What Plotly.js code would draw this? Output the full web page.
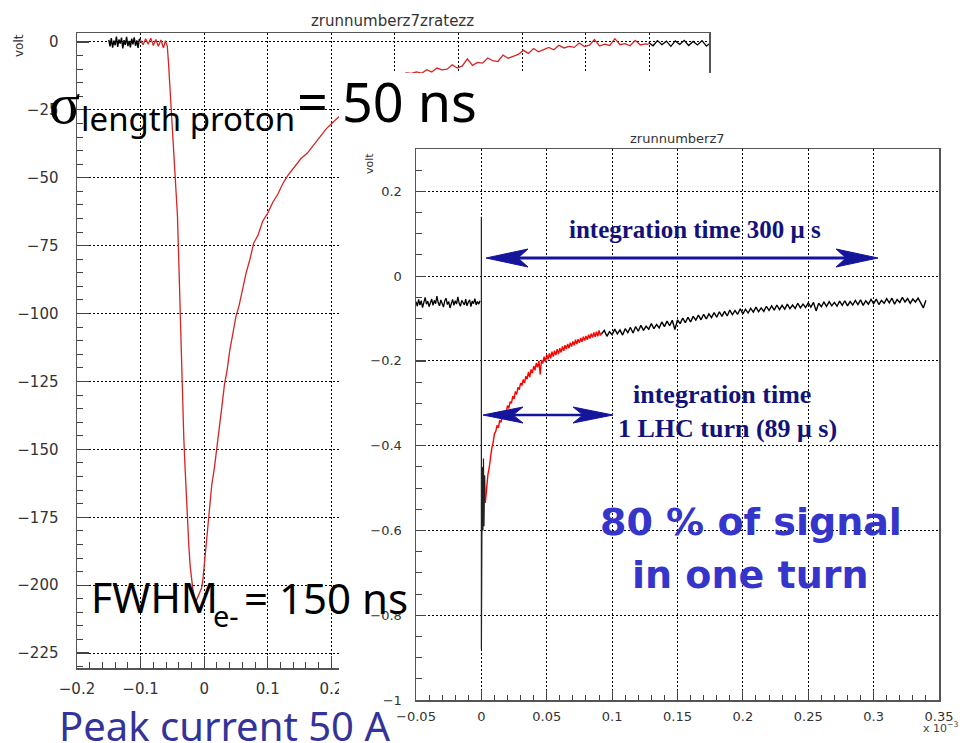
<!DOCTYPE html>
<html><head><meta charset="utf-8">
<script src="https://cdn.plot.ly/plotly-3.0.1.min.js"></script>
<style>body{margin:0;background:#fff}#lp,#rp{position:absolute;left:0;top:0;width:965px;height:743px}</style>
</head><body><div id="lp"></div><div id="rp"></div>
<script>
// ---------- LEFT PLOT DATA (x in µs, y in volt) ----------
const leftPreX = [-0.150,-0.148,-0.146,-0.144,-0.142,-0.140,-0.138,-0.136,-0.134,-0.132,-0.130,-0.128,-0.126,-0.124,-0.122,-0.120,-0.118,-0.116,-0.114,-0.112,-0.110,-0.108,-0.106,-0.104,-0.102,-0.100];
const leftPreY = [0.8,-1.6,1.4,-2.1,0.5,-1.2,2.0,-1.8,0.9,-0.6,1.6,-2.4,0.7,-1.1,1.9,-1.5,0.4,-2.0,1.2,-0.9,1.7,-1.4,0.6,-2.2,1.1,0.6];
const leftPulseX = [-0.100,-0.096,-0.092,-0.088,-0.084,-0.080,-0.076,-0.072,-0.068,-0.064,-0.061,-0.058,-0.056,-0.054,-0.052,-0.050,-0.048,-0.046,-0.044,-0.042,-0.040,-0.038,-0.036,-0.034,-0.032,-0.030,-0.028,-0.026,-0.024,-0.022,-0.020,-0.018,-0.016,-0.014,-0.012,-0.010,-0.008,-0.006,-0.004,-0.002,0.000,0.003,0.006,0.009,0.012,0.016,0.020,0.024,0.028,0.032,0.036,0.040,0.045,0.050,0.055,0.060,0.066,0.072,0.078,0.085,0.092,0.100,0.108,0.116,0.124,0.132,0.142,0.152,0.162,0.172,0.182,0.192,0.205,0.220,0.240,0.260,0.280,0.300,
  0.318,0.326,0.334,0.342,0.350,0.358,0.366,0.374,0.382,0.390,0.398,0.406,0.414,0.422,0.430,0.438,0.446,0.454,0.462,0.470,0.478,0.486,0.494,0.502,0.510,0.518,0.526,0.534,0.542,0.550,0.558,0.566,0.574,0.582,0.590,0.598,0.606,0.614,0.622,0.630,0.638,0.646,0.654,0.662,0.670,0.678,0.686,0.694,0.699];
const leftPulseY = [0.6,-1.0,1.2,-0.8,1.4,-1.3,0.9,-1.6,0.7,-2.2,0.5,-1.5,-8,-16,-23,-30,-38,-45,-53,-64,-80,-98,-112,-130,-146,-157,-168,-178,-186,-193,-198,-201,-204,-206,-205.5,-204.5,-203.5,-202.5,-201,-198,-193,-186,-177,-170,-163,-157,-150,-142,-134,-126,-121,-114,-108,-101,-97,-91,-85,-80,-74,-71,-66,-63,-59,-56,-52,-49,-46,-43,-41,-38,-35,-32,-29,-26,-22,-18,-15,-13,
  -11.4,-11.6,-11.0,-11.5,-10.2,-11.1,-9.6,-10.3,-10.0,-8.4,-9.6,-8.8,-6.2,-8.6,-7.5,-7.8,-5.9,-6.9,-7.2,-4.8,-6.0,-5.3,-4.6,-3.1,-4.2,-2.4,-3.6,-2.8,-2.0,-2.9,-1.2,-2.2,-1.6,-2.0,-0.4,-1.7,-1.2,0.9,-1.5,-0.8,-1.3,1.2,-1.0,-0.6,-1.4,0.6,-1.1,-0.7,-0.9];
const leftTailX = [0.699,0.706,0.713,0.720,0.727,0.734,0.741,0.748,0.755,0.762,0.769,0.776,0.783,0.790,0.797];
const leftTailY = [-0.2,-1.4,0.5,-1.0,0.3,-1.6,0.4,-0.9,0.6,-1.3,0.2,-1.1,0.5,-1.5,-0.2];

// ---------- RIGHT PLOT DATA (x in ms, y in volt) ----------
const rightPreX = [-0.050,-0.049,-0.048,-0.047,-0.046,-0.045,-0.044,-0.043,-0.042,-0.041,-0.040,-0.039,-0.038,-0.037,-0.036,-0.035,-0.034,-0.033,-0.032,-0.031,-0.030,-0.029,-0.028,-0.027,-0.026,-0.025,-0.024,-0.023,-0.022,-0.021,-0.020,-0.019,-0.018,-0.017,-0.016,-0.015,-0.014,-0.013,-0.012,-0.011,-0.010,-0.009,-0.008,-0.007,-0.006,-0.005,-0.004,-0.003,-0.002,-0.001];
const rightPreY = [-0.060,-0.071,-0.055,-0.068,-0.058,-0.074,-0.062,-0.050,-0.066,-0.059,-0.072,-0.061,-0.054,-0.069,-0.057,-0.065,-0.047,-0.063,-0.070,-0.056,-0.064,-0.073,-0.058,-0.052,-0.067,-0.060,-0.075,-0.062,-0.055,-0.069,-0.058,-0.066,-0.049,-0.064,-0.071,-0.057,-0.063,-0.068,-0.054,-0.070,-0.061,-0.056,-0.072,-0.059,-0.065,-0.053,-0.068,-0.060,-0.066,-0.058];
const rightSpikeX = [0,0,0,0.0004,0.0008,0.0012,0.0016,0.002,0.0025,0.003];
const rightSpikeY = [-0.062,0.14,-0.88,-0.62,-0.45,-0.60,-0.43,-0.59,-0.47,-0.535];
const rightTurnX = [0.003,0.004,0.005,0.006,0.007,0.008,0.009,0.010,0.011,0.012,0.013,0.014,0.015,0.016,0.017,0.018,0.019,0.020,0.021,0.022,0.023,0.024,0.025,0.026,0.027,0.028,0.029,0.030,0.031,0.032,0.033,0.034,0.035,0.036,0.037,0.038,0.039,0.040,0.041,0.042,0.043,0.044,0.045,0.046,0.047,0.048,0.049,0.050,0.051,0.052,0.053,0.054,0.055,0.056,0.057,0.058,0.059,0.060,0.061,0.062,0.063,0.064,0.065,0.066,0.067,0.068,0.069,0.070,0.071,0.072,0.073,0.074,0.075,0.076,0.077,0.078,0.079,0.080,0.081,0.082,0.083,0.084,0.085,0.086,0.087,0.088,0.089,0.090,0.091,0.092];
const rightTurnY = [-0.535,-0.500,-0.468,-0.452,-0.425,-0.405,-0.392,-0.372,-0.366,-0.352,-0.358,-0.340,-0.345,-0.330,-0.336,-0.318,-0.322,-0.305,-0.312,-0.296,-0.300,-0.283,-0.290,-0.272,-0.279,-0.262,-0.268,-0.252,-0.258,-0.244,-0.252,-0.236,-0.243,-0.226,-0.238,-0.220,-0.229,-0.212,-0.222,-0.205,-0.215,-0.200,-0.232,-0.198,-0.206,-0.190,-0.203,-0.185,-0.196,-0.182,-0.194,-0.178,-0.190,-0.176,-0.186,-0.172,-0.184,-0.170,-0.180,-0.166,-0.176,-0.163,-0.172,-0.160,-0.170,-0.157,-0.166,-0.154,-0.163,-0.150,-0.160,-0.149,-0.157,-0.146,-0.155,-0.143,-0.152,-0.141,-0.150,-0.138,-0.147,-0.136,-0.145,-0.133,-0.143,-0.131,-0.142,-0.128,-0.140,-0.134];
const rightPostX = [0.092,0.094,0.096,0.098,0.100,0.102,0.104,0.106,0.108,0.110,0.112,0.114,0.116,0.118,0.120,0.122,0.124,0.126,0.128,0.130,0.132,0.134,0.136,0.138,0.140,0.142,0.144,0.146,0.148,0.150,0.152,0.154,0.156,0.158,0.160,0.162,0.164,0.166,0.168,0.170,0.172,0.174,0.176,0.178,0.180,0.182,0.184,0.186,0.188,0.190,0.192,0.194,0.196,0.198,0.200,0.202,0.204,0.206,0.208,0.210,0.212,0.214,0.216,0.218,0.220,0.222,0.224,0.226,0.228,0.230,0.232,0.234,0.236,0.238,0.240,0.242,0.244,0.246,0.248,0.250,0.252,0.254,0.256,0.258,0.260,0.262,0.264,0.266,0.268,0.270,0.272,0.274,0.276,0.278,0.280,0.282,0.284,0.286,0.288,0.290,0.292,0.294,0.296,0.298,0.300,0.302,0.304,0.306,0.308,0.310,0.312,0.314,0.316,0.318,0.320,0.322,0.324,0.326,0.328,0.330,0.332,0.334,0.336,0.338,0.340];
const rightPostY = [-0.136,-0.128,-0.142,-0.131,-0.138,-0.125,-0.136,-0.127,-0.139,-0.124,-0.133,-0.121,-0.134,-0.119,-0.130,-0.116,-0.128,-0.118,-0.125,-0.112,-0.124,-0.114,-0.122,-0.108,-0.119,-0.106,-0.117,-0.104,-0.126,-0.103,-0.112,-0.099,-0.110,-0.097,-0.108,-0.095,-0.104,-0.092,-0.103,-0.090,-0.101,-0.089,-0.098,-0.086,-0.097,-0.084,-0.095,-0.083,-0.094,-0.080,-0.091,-0.081,-0.090,-0.077,-0.089,-0.078,-0.087,-0.076,-0.085,-0.073,-0.084,-0.075,-0.083,-0.071,-0.081,-0.070,-0.080,-0.068,-0.079,-0.069,-0.078,-0.066,-0.077,-0.068,-0.076,-0.064,-0.075,-0.066,-0.074,-0.063,-0.073,-0.062,-0.082,-0.064,-0.072,-0.061,-0.071,-0.060,-0.070,-0.062,-0.071,-0.059,-0.069,-0.058,-0.070,-0.060,-0.068,-0.057,-0.067,-0.056,-0.069,-0.058,-0.066,-0.055,-0.065,-0.054,-0.067,-0.057,-0.064,-0.053,-0.063,-0.052,-0.066,-0.055,-0.062,-0.050,-0.061,-0.053,-0.064,-0.054,-0.061,-0.052,-0.063,-0.075,-0.057];

// ---------- GEOMETRY (pixel frames of the two ROOT canvases) ----------
const L = {x0:77, x1:709, y0:33, y1:668};
const R = {x0:416, x1:939, y0:149, y1:700};
const px = (F,x) => (x-F.x0)/(F.x1-F.x0);
const py = (F,y) => (F.y1-y)/(F.y1-F.y0);

function axis(o){
  return Object.assign({
    showline:true, mirror:true, linecolor:'#555', linewidth:1.5,
    ticks:'inside', tickcolor:'#444', tickwidth:1.2,
    showgrid:true, gridcolor:'#000', gridwidth:1, griddash:'2px,2px',
    zeroline:false, fixedrange:true
  }, o);
}
function txt(F, text, x, y, font, xa, extra){
  return Object.assign({text:text, xref:'paper', yref:'paper', x:px(F,x), y:py(F,y),
    xanchor:xa||'left', yanchor:'middle', showarrow:false, font:font}, extra||{});
}

// ---------- LEFT PLOT ----------
const leftTraces = [
  {x:leftPreX, y:leftPreY, mode:'lines', line:{color:'#000', width:1.4}, hoverinfo:'skip'},
  {x:leftPulseX, y:leftPulseY, mode:'lines', line:{color:'#d42525', width:1.3}, hoverinfo:'skip'},
  {x:leftTailX, y:leftTailY, mode:'lines', line:{color:'#000', width:1.3}, hoverinfo:'skip'}
];
const lf = {family:'DejaVu Sans', size:15, color:'#333'};
const leftLayout = {
  width:965, height:743, showlegend:false,
  paper_bgcolor:'#fff', plot_bgcolor:'#fff',
  margin:{l:L.x0, r:965-L.x1, t:L.y0, b:743-L.y1, pad:0},
  xaxis: axis({range:[-0.2,0.794], tick0:0, dtick:0.1, ticklen:12, ticklabelstandoff:6, tickfont:lf,
    minor:{tick0:0, dtick:0.02, ticks:'inside', ticklen:6, tickcolor:'#444', tickwidth:1, showgrid:false}}),
  yaxis: axis({range:[-230.5,3.3], tick0:0, dtick:25, ticklen:12, ticklabelstandoff:14, tickfont:lf,
    minor:{tick0:0, dtick:5, ticks:'inside', ticklen:6, tickcolor:'#444', tickwidth:1, showgrid:false}}),
  annotations:[
    txt(L, 'zrunnumberz7zratezz', 392, 21, {family:'DejaVu Sans', size:15, color:'#333'}, 'center'),
    txt(L, 'volt', 19, 46, {family:'DejaVu Sans', size:12, color:'#333'}, 'center', {textangle:-90})
  ]
};

// ---------- RIGHT PLOT ----------
const rightTraces = [
  {x:rightPreX, y:rightPreY, mode:'lines', line:{color:'#000', width:1.3}, hoverinfo:'skip'},
  {x:rightSpikeX, y:rightSpikeY, mode:'lines', line:{color:'#222', width:1.2}, hoverinfo:'skip'},
  {x:rightTurnX, y:rightTurnY, mode:'lines', line:{color:'#ff0000', width:1.4}, hoverinfo:'skip'},
  {x:rightPostX, y:rightPostY, mode:'lines', line:{color:'#000', width:1.4}, hoverinfo:'skip'}
];
const rf = {family:'DejaVu Sans', size:13, color:'#333'};
const navy = '#12127a', arrowBlue = '#15159c';
function arrowShapes(xa, xb, y, w, len, half, notch){
  const X = v => px(R, v), Y = v => py(R, v);
  const head = (tip, dir) => 'M'+X(tip)+','+Y(y)+' L'+X(tip+dir*len)+','+Y(y-half)+' L'+X(tip+dir*notch)+','+Y(y)+' L'+X(tip+dir*len)+','+Y(y+half)+' Z';
  return [
    {type:'line', xref:'paper', yref:'paper', x0:X(xa+notch), x1:X(xb-notch), y0:Y(y), y1:Y(y), line:{color:arrowBlue, width:w}, layer:'above'},
    {type:'path', xref:'paper', yref:'paper', path:head(xa, 1), fillcolor:arrowBlue, line:{color:arrowBlue, width:1}, layer:'above'},
    {type:'path', xref:'paper', yref:'paper', path:head(xb, -1), fillcolor:arrowBlue, line:{color:arrowBlue, width:1}, layer:'above'}
  ];
}
const tah = 'Noto Sans, Liberation Sans, sans-serif';
const rightLayout = {
  width:965, height:743, showlegend:false,
  paper_bgcolor:'rgba(0,0,0,0)', plot_bgcolor:'#fff',
  margin:{l:R.x0, r:965-R.x1, t:R.y0, b:743-R.y1, pad:0},
  xaxis: axis({range:[-0.05,0.35], tick0:0, dtick:0.05, ticklen:10, ticklabelstandoff:4, tickfont:rf,
    minor:{tick0:0, dtick:0.01, ticks:'inside', ticklen:5, tickcolor:'#444', tickwidth:1, showgrid:false}}),
  yaxis: axis({range:[-1,0.3], tick0:0, dtick:0.2, ticklen:10, ticklabelstandoff:10, tickfont:rf,
    minor:{tick0:0, dtick:0.05, ticks:'inside', ticklen:6, tickcolor:'#444', tickwidth:1, showgrid:false}}),
  shapes: [
    {type:'rect', xref:'paper', yref:'paper', x0:px(R,339), x1:px(R,965), y0:py(R,743), y1:py(R,73),
      fillcolor:'#fff', line:{width:0}, layer:'below'}
  ].concat(arrowShapes(486, 878, 258, 3, 42, 9, 32))
   .concat(arrowShapes(483, 613, 415, 2.5, 40, 8, 30)),
  annotations:[
    txt(R, 'zrunnumberz7', 677, 139, {family:'DejaVu Sans', size:13, color:'#333'}, 'center'),
    txt(R, 'volt', 369, 164, {family:'DejaVu Sans', size:11, color:'#333'}, 'center', {textangle:-90}),
    txt(R, 'x 10<sup>−3</sup>', 921, 727, {family:'DejaVu Sans', size:11, color:'#444'}, 'left'),
    txt(R, 'integration time 300 μ s', 695, 229, {family:'Liberation Serif', size:25, color:navy, weight:'bold'}, 'center'),
    txt(R, 'integration time', 722, 394, {family:'Liberation Serif', size:26, color:navy, weight:'bold'}, 'center'),
    txt(R, '1 LHC turn (89 μ s)', 727, 428, {family:'Liberation Serif', size:26, color:navy, weight:'bold'}, 'center'),
    txt(R, '80 % of signal', 751, 522, {family:'DejaVu Sans', size:38, color:'#3535cc', weight:'bold'}, 'center'),
    txt(R, 'in one turn', 750, 575, {family:'DejaVu Sans', size:38, color:'#3535cc', weight:'bold'}, 'center'),
    txt(R, 'σ', 47, 103, {family:'Liberation Serif', size:58, color:'#000'}, 'left'),
    txt(R, 'length proton', 79, 119, {family:tah, size:33, color:'#000'}, 'left'),
    txt(R, '= 50 ns', 295, 101, {family:tah, size:54, color:'#000'}, 'left'),
    txt(R, 'FWHM', 89, 597, {family:tah, size:41, color:'#000'}, 'left'),
    txt(R, 'e-', 211, 615, {family:tah, size:29, color:'#000'}, 'left'),
    txt(R, '= 150 ns', 242, 597, {family:tah, size:42, color:'#000'}, 'left'),
    txt(R, 'Peak current 50 A', 57, 725, {family:tah, size:40, color:'#333399'}, 'left')
  ]
};

const cfg = {displayModeBar:false, staticPlot:true};
Plotly.newPlot('lp', leftTraces, leftLayout, cfg);
Plotly.newPlot('rp', rightTraces, rightLayout, cfg);
</script></body></html>
